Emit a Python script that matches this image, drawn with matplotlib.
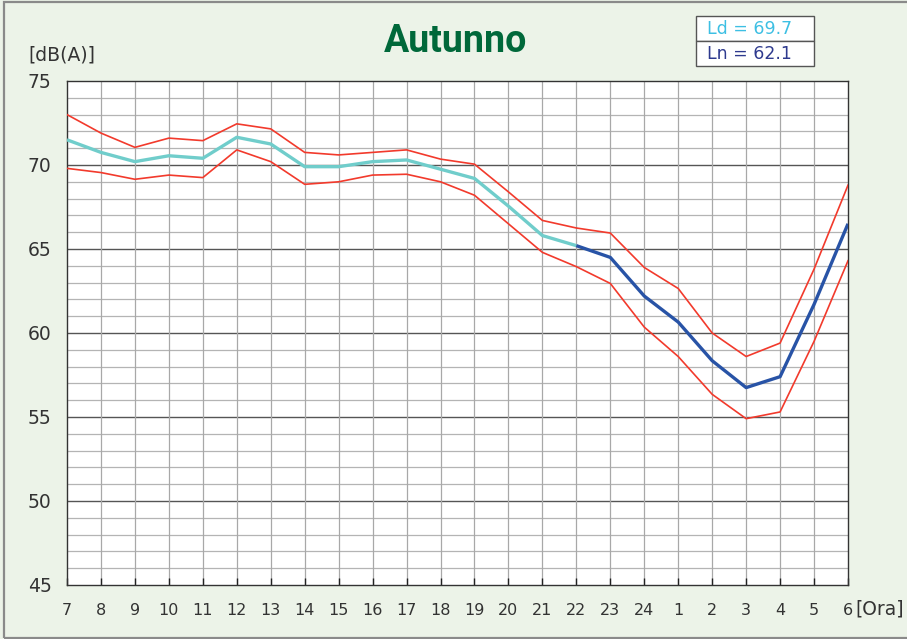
import numpy as np
import matplotlib
matplotlib.use('Agg')
import matplotlib.pyplot as plt
from matplotlib.patches import Rectangle

# hours of the day (x axis), from 7 to 6 next morning
hours = ['7', '8', '9', '10', '11', '12', '13', '14', '15', '16', '17', '18',
         '19', '20', '21', '22', '23', '24', '1', '2', '3', '4', '5', '6']

# upper / lower red bands
upper = [73.0, 71.9, 71.05, 71.6, 71.45, 72.45, 72.15, 70.75, 70.6, 70.75, 70.9, 70.35,
         70.05, 68.4, 66.7, 66.25, 65.95, 63.9, 62.65, 60.0, 58.6, 59.4, 63.8, 68.8]
lower = [69.8, 69.55, 69.15, 69.4, 69.25, 70.9, 70.2, 68.85, 69.0, 69.4, 69.45, 69.0,
         68.2, 66.5, 64.8, 63.95, 62.95, 60.35, 58.6, 56.35, 54.9, 55.3, 59.5, 64.3]

# mean level, day part (7-22) and night part (22-6)
day = [71.5, 70.75, 70.2, 70.55, 70.4, 71.65, 71.25, 69.9, 69.9, 70.2, 70.3, 69.75,
       69.2, 67.55, 65.8, 65.2]
night = [65.2, 64.5, 62.2, 60.65, 58.35, 56.75, 57.4, 61.7, 66.5]

ld_text = 'Ld = 69.7'
ln_text = 'Ln = 62.1'

bg = '#ECF3E8'
fig = plt.figure(figsize=(9.07, 6.39), dpi=100, facecolor=bg)
ax = fig.add_axes([67/907, 1-585/639, (848-67)/907, (585-81)/639])
ax.set_facecolor('white')

# outer frame
fig.patches.append(Rectangle((4/907, 1/639), 1.2, 636/639, transform=fig.transFigure,
                             fill=False, edgecolor='#8A8A8A', linewidth=1.6))

x = np.arange(len(hours))
ax.set_xlim(0, len(hours) - 1)
ax.set_ylim(45, 75)

# grid
for v in range(46, 75):
    if v % 5 == 0:
        ax.axhline(v, color='#555555', linewidth=1.0, zorder=1)
    else:
        ax.axhline(v, color='#B4B4B4', linewidth=0.9, zorder=1)
for xi in x[1:-1]:
    ax.axvline(xi, color='#A8A8A8', linewidth=0.9, zorder=1)

ax.plot(x, upper, color='#F23A2C', linewidth=1.2, zorder=3)
ax.plot(x, lower, color='#F23A2C', linewidth=1.2, zorder=3)
ax.plot(x[:len(day)], day, color='#70CDCB', linewidth=2.4, zorder=4,
        solid_capstyle='butt')
ax.plot(x[len(day)-1:], night, color='#2853A6', linewidth=2.4, zorder=4,
        solid_capstyle='butt')

for s in ax.spines.values():
    s.set_color('#333333')
    s.set_linewidth(1.0)

ax.set_xticks(x)
ax.set_xticklabels(hours)
ax.set_yticks([45, 50, 55, 60, 65, 70, 75])
ax.tick_params(axis='x', direction='in', length=5, width=1.0, color='#222222',
               pad=13, labelsize=11.5, labelcolor='#333333')
ax.tick_params(axis='y', length=0, pad=11, labelsize=13.5, labelcolor='#333333')

fig.text(28/907, 1-55/639, '[dB(A)]', fontsize=13.5, color='#333333', va='center', ha='left')
fig.text(904/907, 1-609/639, '[Ora]', fontsize=13.5, color='#333333', va='center', ha='right')

fig.text(456/907, 1-42/639, 'Autunno', fontsize=27, fontweight='bold', color='#00683A',
         family=['Roboto', 'DejaVu Sans'], ha='center', va='center')

# Ld / Ln box
for y0 in (16, 41):
    fig.patches.append(Rectangle((696/907, 1-(y0+25)/639), 118/907, 25/639,
                                 transform=fig.transFigure, facecolor='white',
                                 edgecolor='#555555', linewidth=1.0))
fig.text(707/907, 1-29/639, ld_text, fontsize=12.5, color='#3DBFE3', va='center', ha='left')
fig.text(707/907, 1-54/639, ln_text, fontsize=12.5, color='#2E3A8E', va='center', ha='left')

fig.savefig('out.png', dpi=100, facecolor=bg)
